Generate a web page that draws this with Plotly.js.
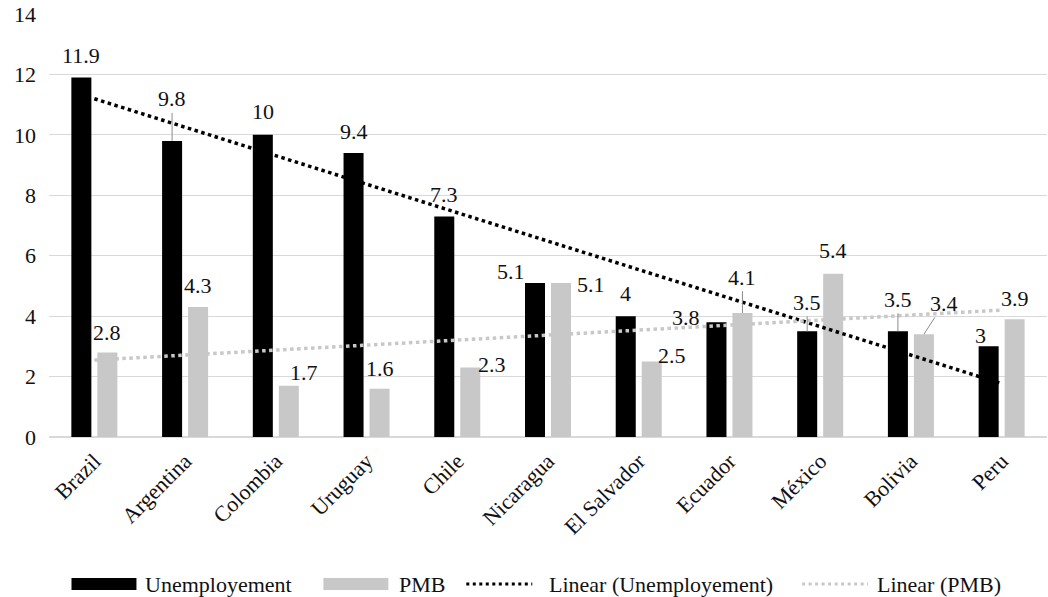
<!DOCTYPE html>
<html>
<head>
<meta charset="utf-8">
<script src="https://cdn.plot.ly/plotly-3.0.1.min.js"></script>
<style>
  html, body { margin: 0; padding: 0; background: #fff; }
  #chart { width: 1048px; height: 597px; }
</style>
</head>
<body>
<div id="chart"></div>
<script>
// ---- Data ----
const categories = ['Brazil', 'Argentina', 'Colombia', 'Uruguay', 'Chile', 'Nicaragua', 'El Salvador', 'Ecuador', 'México', 'Bolivia', 'Peru'];
const unemployment = [11.9, 9.8, 10, 9.4, 7.3, 5.1, 4, 3.8, 3.5, 3.5, 3];
const pmb = [2.8, 4.3, 1.7, 1.6, 2.3, 5.1, 2.5, 4.1, 5.4, 3.4, 3.9];
const yTickValues = [0, 2, 4, 6, 8, 10, 12, 14];
const seriesNames = ['Unemployement', 'PMB', 'Linear (Unemployement)', 'Linear (PMB)'];

// ---- Styles (label placement in pixels: [dx, dy up, leader]) ----
const uLabelStyle = [[0,22,0],[0,42,1],[0,23,0],[0,21,0],[0,21.5,0],[-24,11,0],[0,23,0],[-30,5,0],[0,29,1],[0,32,1],[-8,11,0]];
const pLabelStyle = [[0,20,0],[0,22,0],[15,13,0],[0,20,0],[22,3,0],[30,-2,0],[20,6,0],[0,36,1],[0,23,0],[20,31,1],[0,21,0]];
const BLACK = '#000000';
const GRAY = '#c8c8c8';
const GRID = '#d9d9d9';
const FONT = 'Liberation Serif, Times New Roman, serif';
const BAR_OFFSET = 13;

function linearFit(values) {
  const n = values.length;
  const xs = values.map((_, i) => i + 1);
  const mx = xs.reduce((a, b) => a + b, 0) / n;
  const my = values.reduce((a, b) => a + b, 0) / n;
  let sxy = 0, sxx = 0;
  for (let i = 0; i < n; i++) { sxy += (xs[i] - mx) * (values[i] - my); sxx += (xs[i] - mx) ** 2; }
  const slope = sxy / sxx;
  const intercept = my - slope * mx;
  return xs.map(x => intercept + slope * x);
}

const traces = [
  { type: 'bar', name: seriesNames[0], x: categories, y: unemployment, marker: { color: BLACK }, hoverinfo: 'x+y' },
  { type: 'bar', name: seriesNames[1], x: categories, y: pmb, marker: { color: GRAY }, hoverinfo: 'x+y' },
  { type: 'scatter', mode: 'lines', name: seriesNames[2], x: categories, y: linearFit(unemployment),
    line: { color: BLACK, width: 3.5, dash: '3.5px,3.5px' } },
  { type: 'scatter', mode: 'lines', name: seriesNames[3], x: categories, y: linearFit(pmb),
    line: { color: GRAY, width: 3.5, dash: '3.5px,3.5px' } }
];

const annotations = [];
function addLabels(values, styles, barOffset) {
  values.forEach((v, i) => {
    const [dx, dy, leader] = styles[i];
    const base = { x: categories[i], y: v, xref: 'x', yref: 'y', text: String(v),
      font: { family: FONT, size: 22, color: '#111' } };
    if (leader) {
      annotations.push(Object.assign(base, { showarrow: true, arrowhead: 0, arrowwidth: 1,
        arrowcolor: '#8c8c8c', ax: dx, ay: -dy, xshift: barOffset, standoff: 0 }));
    } else {
      annotations.push(Object.assign(base, { showarrow: false, xshift: barOffset + dx, yshift: dy,
        xanchor: 'center', yanchor: 'middle' }));
    }
  });
}
addLabels(unemployment, uLabelStyle, -BAR_OFFSET);
addLabels(pmb, pLabelStyle, BAR_OFFSET);

// ---- Manual legend (paper coordinates) ----
const ML = 48.5, MT = 14, PW = 998.5, PH = 423;
const px = p => (p - ML) / PW;
const py = p => (MT + PH - p) / PH;
const LEG_Y = 584;
const shapes = [
  { type: 'rect', xref: 'paper', yref: 'paper', x0: px(71), x1: px(136), y0: py(LEG_Y - 6), y1: py(LEG_Y + 6), fillcolor: BLACK, line: { width: 0 } },
  { type: 'rect', xref: 'paper', yref: 'paper', x0: px(323), x1: px(388), y0: py(LEG_Y - 6), y1: py(LEG_Y + 6), fillcolor: GRAY, line: { width: 0 } },
  { type: 'line', xref: 'paper', yref: 'paper', x0: px(466), x1: px(532), y0: py(LEG_Y), y1: py(LEG_Y), line: { color: BLACK, width: 3, dash: '3px,3.5px' } },
  { type: 'line', xref: 'paper', yref: 'paper', x0: px(802), x1: px(868), y0: py(LEG_Y), y1: py(LEG_Y), line: { color: GRAY, width: 3, dash: '3px,3.5px' } }
];
const legendTextX = [143, 397, 547, 875];
seriesNames.forEach((name, i) => {
  annotations.push({ xref: 'paper', yref: 'paper', x: px(legendTextX[i]), y: py(LEG_Y), text: name,
    showarrow: false, xanchor: 'left', yanchor: 'middle', font: { family: FONT, size: 22, color: '#111' } });
});

const layout = {
  width: 1048, height: 597,
  margin: { l: ML, r: 1048 - ML - PW, t: MT, b: 597 - MT - PH },
  paper_bgcolor: '#fff', plot_bgcolor: '#fff',
  showlegend: false,
  barmode: 'group', bargap: 0.427, bargroupgap: 0.23,
  font: { family: FONT, size: 22, color: '#111' },
  xaxis: {
    type: 'category', tickangle: -45, showgrid: false, ticks: '',
    showline: false, ticklabelstandoff: 6,
    tickfont: { family: FONT, size: 22, color: '#111' }
  },
  yaxis: {
    range: [0, 14], tickvals: yTickValues, ticktext: yTickValues.map(String),
    showgrid: true, gridcolor: GRID, gridwidth: 1.2,
    zeroline: true, zerolinecolor: GRID, zerolinewidth: 1.8,
    showline: false, ticks: '', ticklabelstandoff: 12,
    tickfont: { family: FONT, size: 22, color: '#111' }
  },
  annotations: annotations,
  shapes: shapes
};

Plotly.newPlot('chart', traces, layout, { displayModeBar: false, staticPlot: true });
</script>
</body>
</html>
